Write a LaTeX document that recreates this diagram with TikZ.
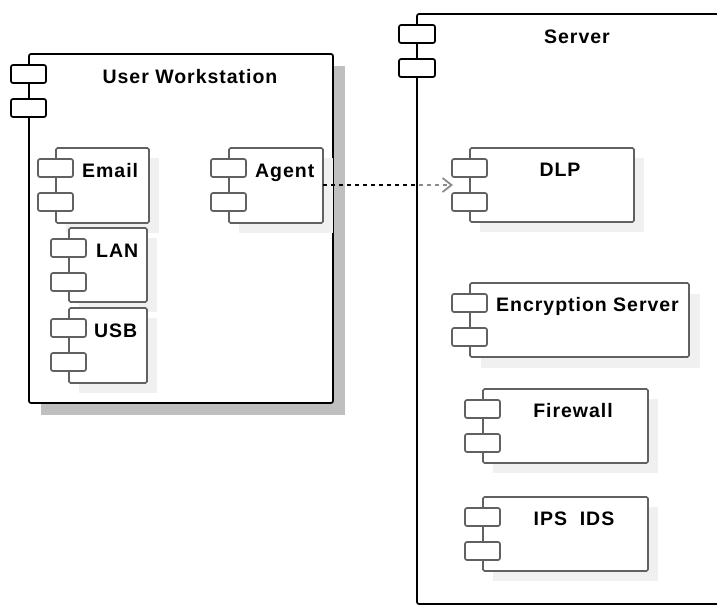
\documentclass[tikz,border=0pt]{standalone}
\usepackage{fontspec}
\setmainfont{Liberation Sans}[LetterSpace=5]
\usetikzlibrary{arrows.meta}
\pgfdeclarelayer{ws}
\pgfdeclarelayer{links}
\pgfsetlayers{ws,links,main}
\tikzset{
  outerbox/.style={draw=black, line width=1.7pt, fill=white, rounded corners=2pt, inner sep=0pt, outer sep=0pt},
  outertab/.style={draw=black, line width=1.7pt, fill=white, rounded corners=2pt},
  outershadow/.style={fill=black!25},
  innerbox/.style={draw=black!62, line width=1.7pt, fill=white, rounded corners=1.5pt, inner sep=0pt, outer sep=0pt},
  innertab/.style={draw=black!62, line width=1.7pt, fill=white, rounded corners=2pt},
  innershadow/.style={fill=black!6},
  lbl/.style={font=\fontsize{19.5}{22}\selectfont\bfseries, inner sep=0pt, text=black},
  conn/.style={draw=black, line width=2.8pt, dash pattern=on 4pt off 4pt,
    -{Straight Barb[length=9pt,width=14pt,line width=1.8pt]}}
}
% UML component: name, left, top, width, height, kind (outer|inner), shadow offset
\newcommand{\umlcomp}[7]{%
  \fill[#6shadow] (#2+#7,#3+#7) rectangle (#2+#4+#7,#3+#5+#7);
  \node[#6box, minimum width=#4pt, minimum height=#5pt, anchor=north west] (#1) at (#2,#3) {};
  \draw[#6tab] (#2-18,#3+11) rectangle (#2+17,#3+29);
  \draw[#6tab] (#2-18,#3+45) rectangle (#2+17,#3+63);
}
\begin{document}
\begin{tikzpicture}[x=1pt, y=-1pt]
\clip (0,0) rectangle (717,606);

% workstation and its parts
\begin{pgfonlayer}{ws}
  \umlcomp{ws}{29}{54}{304}{349}{outer}{12}
  \node[lbl, anchor=base] (wstxt) at (190,83) {User Workstation};
  \umlcomp{email}{56}{148}{93}{75}{inner}{10}
  \node[lbl, anchor=base west] (emailtxt) at (82,177) {Email};
  \umlcomp{lan}{69}{228}{78}{74}{inner}{10}
  \node[lbl, anchor=base west] (lantxt) at (96,257) {LAN};
  \umlcomp{usb}{69}{308}{78}{75}{inner}{10}
  \node[lbl, anchor=base west] (usbtxt) at (94,337) {USB};
  \umlcomp{agent}{229}{148}{94}{75}{inner}{10}
  \node[lbl, anchor=base west] (agenttxt) at (255,177) {Agent};
\end{pgfonlayer}

% server and its parts
\node[outerbox, fill opacity=0.55, minimum width=320pt, minimum height=590pt, anchor=north west] (server) at (417,14) {};
\draw[outertab] (399,25) rectangle (435,43);
\draw[outertab] (399,59) rectangle (435,77);
\node[lbl, anchor=base] (servertxt) at (577,43) {Server};

\umlcomp{dlp}{470}{148}{164}{74}{inner}{10}
\node[lbl, anchor=base] (dlptxt) at (560,176) {DLP};
\umlcomp{enc}{470}{283}{219}{74}{inner}{11}
\node[lbl, anchor=base west] (enctxt) at (496,311) {Encryption Server};
\umlcomp{fw}{483}{389}{165}{74}{inner}{10}
\node[lbl, anchor=base] (fwtxt) at (573,417) {Firewall};
\umlcomp{ips}{483}{497}{165}{74}{inner}{10}
\node[lbl, anchor=base] (ipstxt) at (574,525) {IPS\ \ IDS};

% dependency from the agent to the DLP port
\coordinate (dlpport) at ([xshift=-17pt]dlp.west);
\begin{pgfonlayer}{links}
  \draw[conn] (agent.east |- dlpport) -- (dlpport);
\end{pgfonlayer}
\end{tikzpicture}
\end{document}
